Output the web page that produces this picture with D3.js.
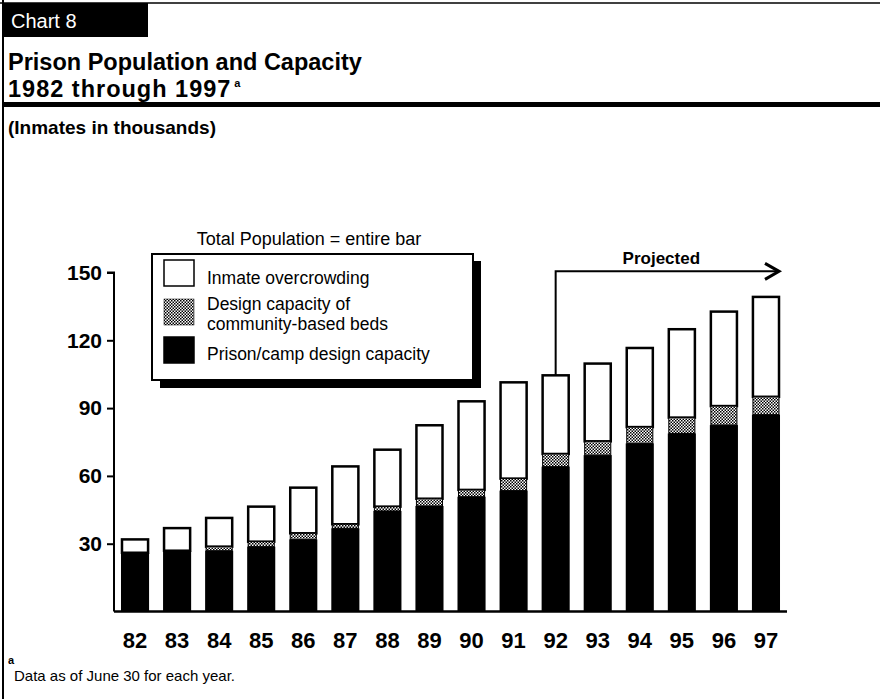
<!DOCTYPE html>
<html><head><meta charset="utf-8">
<script src="https://cdn.jsdelivr.net/npm/d3@7"></script>
<style>
html,body{margin:0;padding:0;background:#fff;}
svg{display:block;font-family:"Liberation Sans",Arial,Helvetica,sans-serif;}
</style></head>
<body>
<script>
// ---- data (inmates in thousands) ----
const years = ["82","83","84","85","86","87","88","89","90","91","92","93","94","95","96","97"];
const prisonCapacity = [26.0,26.9,26.9,28.7,31.9,36.8,44.5,46.7,50.8,53.5,64.1,69.2,74.4,78.8,82.5,87.1];
const communityBeds  = [0,0,1.8,2.2,2.7,1.8,1.9,3.2,3.0,5.3,5.6,6.1,7.2,7.0,8.4,7.9];
const totalPopulation = [31.9,36.9,41.4,46.4,54.8,64.2,71.6,82.4,93.0,101.4,104.5,109.7,116.6,124.9,132.7,139.2];
const yTicks = [30,60,90,120,150];
const projectedFrom = "92";
const projectedLevel = 150.5;
const legendLabels = [["Inmate overcrowding"],["Design capacity of","community-based beds"],["Prison/camp design capacity"]];

const W = 880, H = 699;
const svg = d3.select("body").append("svg").attr("width", W).attr("height", H);

const defs = svg.append("defs");
const pat = defs.append("pattern").attr("id","hatch").attr("patternUnits","userSpaceOnUse")
  .attr("width",3).attr("height",3);
pat.append("rect").attr("width",3).attr("height",3).attr("fill","#fff");
pat.append("rect").attr("x",0).attr("y",0).attr("width",1.5).attr("height",1.5).attr("fill","#000");
pat.append("rect").attr("x",1.5).attr("y",1.5).attr("width",1.5).attr("height",1.5).attr("fill","#000");

// frame
svg.append("line").attr("x1",3).attr("x2",3).attr("y1",0).attr("y2",H).attr("stroke","#000").attr("stroke-width",2);
svg.append("line").attr("x1",0).attr("x2",W).attr("y1",3).attr("y2",3).attr("stroke","#000").attr("stroke-width",1.5);

// header
svg.append("rect").attr("x",3).attr("y",3).attr("width",145).attr("height",34).attr("fill","#000");
svg.append("text").attr("x",11).attr("y",28).attr("fill","#fff").attr("font-size",20).text("Chart 8");
svg.append("text").attr("x",8).attr("y",70).attr("font-size",23.5).attr("font-weight","bold").text("Prison Population and Capacity");
const t2 = svg.append("text").attr("x",8).attr("y",97).attr("font-size",23.5).attr("font-weight","bold");
t2.append("tspan").attr("letter-spacing",1).text("1982 through 1997");
t2.append("tspan").attr("font-size",11).attr("dy",-10).attr("dx",3).text("a");
svg.append("rect").attr("x",3).attr("y",102).attr("width",W-3).attr("height",5).attr("fill","#000");
svg.append("text").attr("x",8).attr("y",134).attr("font-size",19).attr("font-weight","bold").text("(Inmates in thousands)");

// scales
const x = d3.scaleBand().domain(years).range([114,787]).paddingInner(0.38).paddingOuter(0.19);
const y = d3.scaleLinear().domain([0,150]).range([611.5,272.5]);

// y axis
const yAxis = d3.axisLeft(y).tickValues(yTicks).tickSize(7).tickPadding(5).tickFormat(d3.format("d"));
const gy = svg.append("g").attr("transform","translate(114,0)").call(yAxis);
gy.select(".domain").attr("stroke-width",2).attr("d",`M-7,${y(150)}H0V${y(0)}`);
gy.selectAll(".tick line").attr("stroke-width",2);
gy.selectAll("text").attr("font-size",21).attr("font-weight","bold").attr("fill","#000")
  .attr("font-family","'Liberation Sans',Arial,sans-serif");

// x axis
const xAxis = d3.axisBottom(x).tickSize(0).tickPadding(21);
const gx = svg.append("g").attr("transform",`translate(0,${y(0)})`).call(xAxis);
gx.select(".domain").attr("stroke-width",2.5).attr("d",`M114,0H787`);
gx.selectAll("text").attr("font-size",22).attr("font-weight","bold").attr("fill","#000")
  .attr("font-family","'Liberation Sans',Arial,sans-serif");

// bars
const rows = years.map((yr,i)=>({yr, p:prisonCapacity[i], c:communityBeds[i], t:totalPopulation[i]}));
const g = svg.append("g").selectAll("g").data(rows).join("g");
g.append("rect").attr("x",d=>x(d.yr)).attr("width",x.bandwidth())
  .attr("y",d=>y(d.t)).attr("height",d=>y(d.p+d.c)-y(d.t))
  .attr("fill","#fff").attr("stroke","#000").attr("stroke-width",2.5);
g.filter(d=>d.c>0).append("rect").attr("x",d=>x(d.yr)).attr("width",x.bandwidth())
  .attr("y",d=>y(d.p+d.c)).attr("height",d=>y(d.p)-y(d.p+d.c))
  .attr("fill","url(#hatch)").attr("stroke","#000").attr("stroke-width",1);
g.append("rect").attr("x",d=>x(d.yr)-1).attr("width",x.bandwidth()+2)
  .attr("y",d=>y(d.p)).attr("height",d=>y(0)-y(d.p)).attr("fill","#000");

// projected arrow
const px = x(projectedFrom)+x.bandwidth()/2;
const pEnd = x(years[years.length-1])+x.bandwidth();
const pIdx = years.indexOf(projectedFrom);
svg.append("path").attr("d",`M${px},${y(totalPopulation[pIdx])}V${y(projectedLevel)}H${pEnd}`)
  .attr("fill","none").attr("stroke","#000").attr("stroke-width",2);
svg.append("path").attr("d",`M${pEnd-14},${y(projectedLevel)-8}L${pEnd},${y(projectedLevel)}L${pEnd-14},${y(projectedLevel)+8}`)
  .attr("fill","none").attr("stroke","#000").attr("stroke-width",3);
svg.append("text").attr("x",(px+pEnd)/2-6).attr("y",y(projectedLevel)-7).attr("text-anchor","middle")
  .attr("font-size",17).attr("font-weight","bold").text("Projected");

// legend
svg.append("text").attr("x",309).attr("y",245).attr("text-anchor","middle").attr("font-size",18).text("Total Population = entire bar");
svg.append("rect").attr("x",160).attr("y",261).attr("width",321).attr("height",127).attr("fill","#000");
svg.append("rect").attr("x",152).attr("y",254).attr("width",321).attr("height",126).attr("fill","#fff").attr("stroke","#000").attr("stroke-width",2);
const swFill = ["#fff","url(#hatch)","#000"];
const swY = [260,299,337];
legendLabels.forEach((lines,i)=>{
  svg.append("rect").attr("x",164).attr("y",swY[i]).attr("width",30).attr("height",26)
    .attr("fill",swFill[i]).attr("stroke","#000").attr("stroke-width",i===1?0.5:1.5);
  const base = i===0?284:(i===1?310:360);
  lines.forEach((ln,j)=>{
    svg.append("text").attr("x",207).attr("y",base+j*20).attr("font-size",17.5).text(ln);
  });
});

// footnote
svg.append("text").attr("x",8).attr("y",664).attr("font-size",11).attr("font-weight","bold").text("a");
svg.append("text").attr("x",14).attr("y",681).attr("font-size",15).text("Data as of June 30 for each year.");
</script>
</body></html>
